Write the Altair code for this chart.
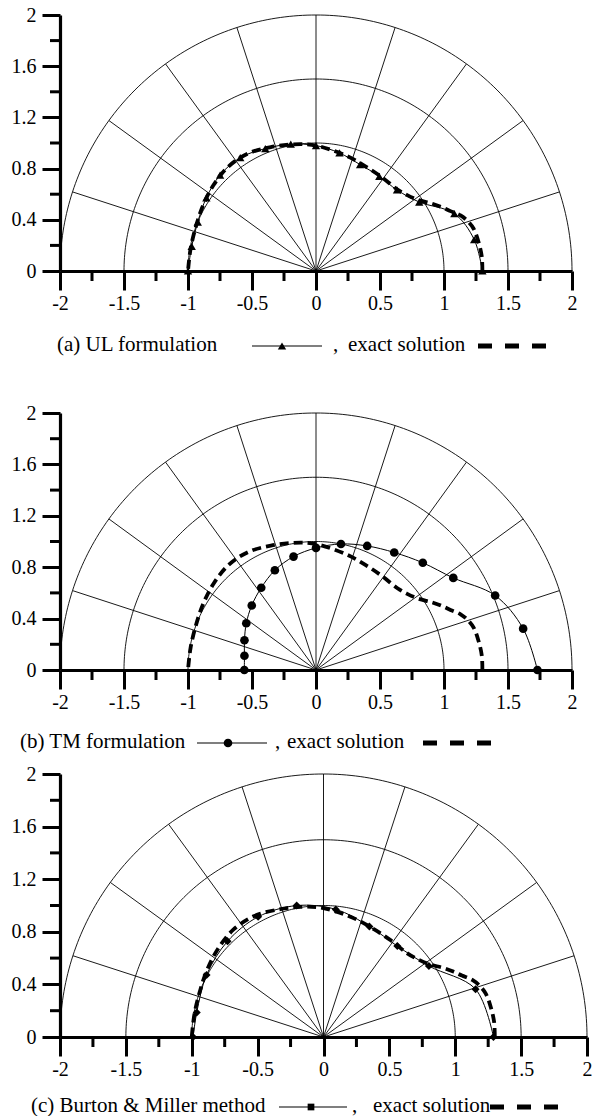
import altair as alt
import numpy as np
import pandas as pd

FONT = "Times New Roman, Liberation Serif, serif"

# ---------------- data ----------------
GRID_R = [1.0, 1.5, 2.0]
SPOKE_ANG = [18, 36, 54, 72, 90, 108, 126, 144, 162]
X_MAJOR = [-2, -1.5, -1, -0.5, 0, 0.5, 1, 1.5, 2]
X_MINOR = [-1.75, -1.25, -0.75, -0.25, 0.25, 0.75, 1.25, 1.75]
Y_MAJOR = [0, 0.4, 0.8, 1.2, 1.6, 2]
Y_MINOR = [0.2, 0.6, 1.0, 1.4, 1.8]

EXACT_ANG = [0, 5, 10, 15, 18, 21, 24, 27, 30, 35, 40, 45, 55, 65, 75, 90,
             100, 110, 120, 130, 140, 150, 160, 170, 180]
EXACT_R = [1.30, 1.30, 1.29, 1.275, 1.25, 1.21, 1.15, 1.10, 1.05, 0.97, 0.925, 0.90,
           0.895, 0.905, 0.93, 0.98, 1.005, 1.03, 1.06, 1.065, 1.045, 1.02, 1.0, 0.995, 1.0]

NUM_ANG = [0, 11.25, 22.5, 33.75, 45, 56.25, 67.5, 78.75, 90, 101.25, 112.5,
           123.75, 135, 146.25, 157.5, 168.75, 180]
UL_R = [1.30, 1.26, 1.17, 0.97, 0.895, 0.89, 0.90, 0.94, 0.98, 1.01, 1.035,
        1.065, 1.06, 1.03, 1.0, 0.99, 1.0]
TM_R = [1.73, 1.65, 1.515, 1.29, 1.18, 1.10, 1.045, 1.0, 0.95, 0.90, 0.84,
        0.77, 0.71, 0.655, 0.605, 0.57, 0.56]
BM_ANG = [0, 17.5, 34, 51, 67.5, 84.5, 101.5, 118.5, 135, 152, 169, 180]
BM_R = [1.29, 1.21, 0.965, 0.89, 0.91, 0.975, 1.02, 1.04, 1.03, 1.005, 0.98, 0.99]

CAPTIONS = ["(a) UL formulation", "(b) TM formulation", "(c) Burton & Miller method"]
COMMA = ","
EXACT_LABEL = "exact solution"


def polar_df(ang, r):
    a = np.radians(np.asarray(ang, dtype=float))
    r = np.asarray(r, dtype=float)
    return pd.DataFrame({"a": ang, "x": r * np.cos(a), "y": r * np.sin(a)})


ring_rows = []
for rr in GRID_R:
    for a in range(0, 181):
        t = np.radians(a)
        ring_rows.append({"ring": rr, "a": a, "x": rr * np.cos(t), "y": rr * np.sin(t)})
RINGS = pd.DataFrame(ring_rows)

SPOKES = pd.DataFrame({
    "x": [0.0] * len(SPOKE_ANG), "y": [0.0] * len(SPOKE_ANG),
    "x2": [2 * np.cos(np.radians(a)) for a in SPOKE_ANG],
    "y2": [2 * np.sin(np.radians(a)) for a in SPOKE_ANG],
})

LABEL_EXPR = "(datum.value < 0 ? '-' : '') + format(abs(datum.value), '')"


def panel(num_ang, num_r, shape, legend_shape, msize, lsize, caption, W, H, cap_dy, cap_x):
    xs = alt.Scale(domain=[-2, 2], nice=False, zero=False)
    ys = alt.Scale(domain=[0, 2], nice=False, zero=False)
    common = dict(title=None, grid=False, tickWidth=3, tickColor="black",
                  domainColor="black", domainWidth=3.2, labelFont=FONT,
                  labelFontSize=20, labelColor="black", labelExpr=LABEL_EXPR,
                  labelFlush=False, labelOverlap=False)
    xaxis = alt.Axis(values=X_MAJOR, tickSize=19, labelPadding=3, **common)
    yaxis = alt.Axis(values=Y_MAJOR, tickSize=18, labelPadding=6,
                     minExtent=60, maxExtent=60, **common)
    X = lambda f: alt.X(f, type="quantitative", scale=xs, axis=xaxis)
    Y = lambda f: alt.Y(f, type="quantitative", scale=ys, axis=yaxis)

    rings = alt.Chart(RINGS).mark_line(color="black", strokeWidth=0.9).encode(
        x=X("x"), y=Y("y"), detail="ring:N", order="a:Q")
    spokes = alt.Chart(SPOKES).mark_rule(color="black", strokeWidth=0.9).encode(
        x=X("x"), y=Y("y"), x2="x2", y2="y2")
    exact = alt.Chart(polar_df(EXACT_ANG, EXACT_R)).mark_line(
        color="black", strokeWidth=3.8, strokeDash=[9, 5], interpolate="catmull-rom"
    ).encode(x=X("x"), y=Y("y"), order="a:Q")
    ndf = polar_df(num_ang, num_r)
    nline = alt.Chart(ndf).mark_line(color="black", strokeWidth=1,
                                     interpolate="catmull-rom").encode(
        x=X("x"), y=Y("y"), order="a:Q")
    npts = alt.Chart(ndf).mark_point(shape=shape, filled=True, color="black",
                                     size=msize, opacity=1).encode(x=X("x"), y=Y("y"))

    xminor = alt.Chart(pd.DataFrame({"v": X_MINOR})).mark_rule(
        color="black", strokeWidth=3, y2Offset=10).encode(
        x=X("v"), y=alt.datum(0, scale=ys), y2=alt.datum(0))
    yminor = alt.Chart(pd.DataFrame({"v": Y_MINOR})).mark_rule(
        color="black", strokeWidth=3, x2Offset=-10).encode(
        y=Y("v"), x=alt.datum(-2, scale=xs), x2=alt.datum(-2))

    cy = H + cap_dy
    t1x, l1, lm, l2, cx, ex, d1, d2 = cap_x
    one = pd.DataFrame({"t": [caption], "c": [COMMA], "e": [EXACT_LABEL]})

    def txt(field, xpos):
        return alt.Chart(one).mark_text(align="left", baseline="middle", font=FONT,
                                        fontSize=21, color="black").encode(
            text=f"{field}:N", x=alt.value(xpos), y=alt.value(cy))

    sym_line = alt.Chart(one).mark_rule(color="black", strokeWidth=1.2).encode(
        x=alt.value(l1), x2=alt.value(l2), y=alt.value(cy + 1))
    sym_pt = alt.Chart(one).mark_point(shape=legend_shape, filled=True, color="black",
                                       size=lsize, opacity=1).encode(
        x=alt.value(lm), y=alt.value(cy + 1))
    sym_dash = alt.Chart(one).mark_rule(color="black", strokeWidth=5,
                                        strokeDash=[14, 13]).encode(
        x=alt.value(d1), x2=alt.value(d2), y=alt.value(cy + 1))

    return alt.layer(rings, spokes, xminor, yminor, nline, exact, npts,
                     txt("t", t1x), sym_line, sym_pt, txt("c", cx), txt("e", ex),
                     sym_dash).properties(width=W, height=H)


p1 = panel(NUM_ANG, UL_R, "triangle-up", "triangle-up", 70, 70, CAPTIONS[0], 512, 256, 74,
           (-3, 192, 222, 262, 273, 288, 418, 492))
p2 = panel(NUM_ANG, TM_R, "circle", "circle", 75, 75, CAPTIONS[1], 512, 257, 72,
           (-40, 137, 168, 207, 215, 227, 363, 435))
p3 = panel(BM_ANG, BM_R, "diamond", "square", 64, 45, CAPTIONS[2], 527, 263, 69,
           (-29, 219, 251, 287, 292, 313, 430, 511))

chart = alt.vconcat(alt.vconcat(p1, p2, spacing=48), p3, spacing=12).properties(
    padding={"left": 0, "top": 5, "right": 0, "bottom": 0},
    background="white",
).configure_view(strokeWidth=0)

chart.save("out.html", embed_options={"renderer": "svg", "actions": False})
